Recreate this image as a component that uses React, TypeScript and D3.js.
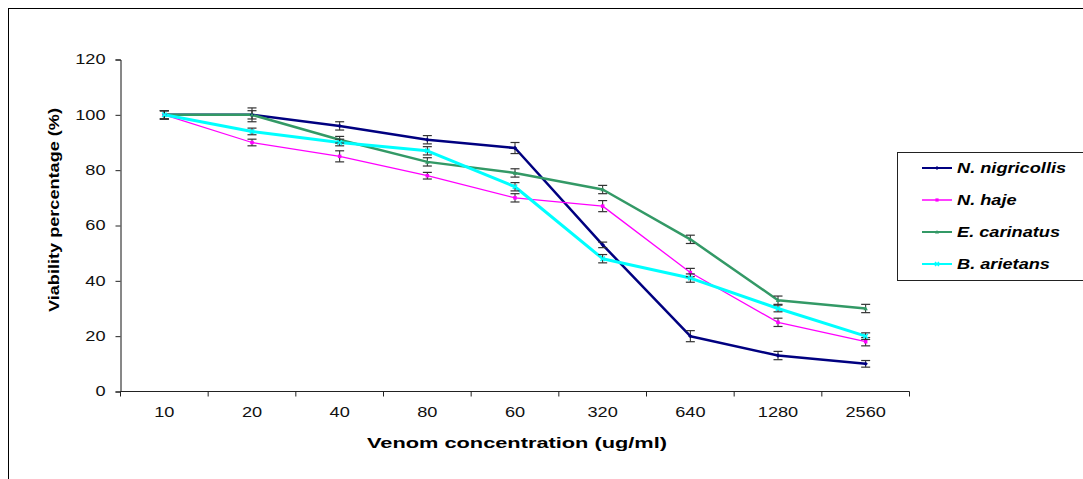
import React, { useEffect, useRef } from "react";
import * as d3 from "d3";

// venom doses as printed on the axis (order kept as in the original)
const doses = ["10", "20", "40", "80", "60", "320", "640", "1280", "2560"];
const yTicks = [0, 20, 40, 60, 80, 100, 120];

const nigricollis = [100, 100, 96, 91, 88, 53, 20, 13, 10];
const haje = [100, 90, 85, 78, 70, 67, 43, 25, 18];
const carinatus = [100, 100, 91, 83, 79, 73, 55, 33, 30];
const arietans = [100, 94, 90, 87, 74, 48, 41, 30, 20];

const nigricollisErr = [1.5, 2.5, 1.5, 1.5, 2, 1, 2, 1.5, 1.2];
const hajeErr = [1.5, 1.2, 2, 1.2, 1.5, 2, 1.5, 1.5, 1.5];
const carinatusErr = [1.5, 1.5, 1.2, 1.5, 1.5, 1.5, 1.5, 1.5, 1.5];
const arietansErr = [1.5, 1.2, 1.2, 1.5, 1.5, 1.5, 1.5, 1.2, 1.2];

const seriesNames = ["N. nigricollis", "N. haje", "E. carinatus", "B. arietans"];

const App = () => {
  const svgRef = useRef<SVGSVGElement>(null);
  const w = 1083;
  const h = 479;

  useEffect(() => {
    const svg = d3.select(svgRef.current);
    svg.selectAll("*").remove();

    const series = [
      { name: seriesNames[0], values: nigricollis, err: nigricollisErr, color: "#000080", width: 2.5, marker: "diamond" },
      { name: seriesNames[1], values: haje, err: hajeErr, color: "#FF00FF", width: 1.3, marker: "square" },
      { name: seriesNames[2], values: carinatus, err: carinatusErr, color: "#339966", width: 2.5, marker: "triangle" },
      { name: seriesNames[3], values: arietans, err: arietansErr, color: "#00FFFF", width: 3, marker: "cross" },
    ];

    // outer chart frame (cut off at right/bottom like the source)
    svg
      .append("rect")
      .attr("x", 8.5)
      .attr("y", 8.5)
      .attr("width", 1200)
      .attr("height", 600)
      .attr("fill", "white")
      .attr("stroke", "black")
      .attr("stroke-width", 1);

    const left = 120.5;
    const right = 909.5;
    const top = 59.5;
    const bottom = 391.5;
    const sx = 1.3; // the source text is stretched sideways

    const xScale = d3.scaleBand().domain(doses).range([left, right]);
    const yScale = d3.scaleLinear().domain([0, 120]).range([bottom, top]);
    const cx = (i: number) => (xScale(doses[i]) as number) + xScale.bandwidth() / 2;

    const font = "Arial, 'Liberation Sans', sans-serif";

    //axes
    const yAxis = d3
      .axisLeft(yScale)
      .tickValues(yTicks)
      .tickSize(5)
      .tickFormat((d) => String(d));
    const gy = svg.append("g").attr("transform", `translate(${left},0)`).call(yAxis);
    gy.selectAll(".tick line").attr("stroke", "#222");
    gy.selectAll("text")
      .attr("x", -15 / sx)
      .attr("transform", `scale(${sx},1)`)
      .attr("font-size", 14)
      .attr("font-family", font)
      .attr("fill", "#111");
    gy.select(".domain").attr("stroke", "#111");

    // x axis: ticks sit on the band boundaries
    const gx = svg.append("g");
    gx.append("line")
      .attr("x1", left)
      .attr("x2", right)
      .attr("y1", bottom)
      .attr("y2", bottom)
      .attr("stroke", "#222");
    const bounds = doses.map((d) => xScale(d) as number).concat([right]);
    gx.selectAll("line.tk")
      .data(bounds)
      .join("line")
      .attr("class", "tk")
      .attr("x1", (d) => d)
      .attr("x2", (d) => d)
      .attr("y1", bottom)
      .attr("y2", bottom + 5)
      .attr("stroke", "#222");
    gx.selectAll("text")
      .data(doses)
      .join("text")
      .attr("transform", (d, i) => `translate(${cx(i)},${bottom + 25}) scale(${sx},1)`)
      .attr("text-anchor", "middle")
      .attr("font-size", 14)
      .attr("font-family", font)
      .attr("fill", "#111")
      .text((d) => d);

    //axis titles
    svg
      .append("text")
      .attr("x", 367)
      .attr("y", 448)
      .attr("textLength", 300)
      .attr("lengthAdjust", "spacingAndGlyphs")
      .attr("font-size", 15)
      .attr("font-weight", "bold")
      .attr("font-family", font)
      .text("Venom concentration (ug/ml)");
    svg
      .append("text")
      .attr("transform", `translate(59,312) rotate(-90)`)
      .attr("textLength", 204)
      .attr("lengthAdjust", "spacingAndGlyphs")
      .attr("font-size", 15)
      .attr("font-weight", "bold")
      .attr("font-family", font)
      .text("Viability percentage (%)");

    const line = d3
      .line<number>()
      .x((d, i) => cx(i))
      .y((d) => yScale(d));

    const drawMarker = (g: any, kind: string, x: number, y: number, color: string, s: number) => {
      if (kind === "diamond") {
        g.append("path")
          .attr("d", `M${x},${y - s} L${x + s},${y} L${x},${y + s} L${x - s},${y} Z`)
          .attr("fill", color);
      } else if (kind === "square") {
        g.append("rect")
          .attr("x", x - s * 0.8)
          .attr("y", y - s * 0.8)
          .attr("width", s * 1.6)
          .attr("height", s * 1.6)
          .attr("fill", color);
      } else if (kind === "triangle") {
        g.append("path")
          .attr("d", `M${x},${y - s} L${x + s},${y + s * 0.8} L${x - s},${y + s * 0.8} Z`)
          .attr("fill", color);
      } else {
        g.append("path")
          .attr("d", `M${x - s},${y - s} L${x + s},${y + s} M${x - s},${y + s} L${x + s},${y - s}`)
          .attr("stroke", color)
          .attr("stroke-width", 1.5);
      }
    };

    // series lines
    series.forEach((s) => {
      svg
        .append("path")
        .datum(s.values)
        .attr("d", line)
        .attr("fill", "none")
        .attr("stroke", s.color)
        .attr("stroke-width", s.width)
        .attr("stroke-linejoin", "round");
    });

    // error bars + markers
    series.forEach((s) => {
      const g = svg.append("g");
      s.values.forEach((v, i) => {
        const x = cx(i);
        const y1 = yScale(v + s.err[i]);
        const y2 = yScale(v - s.err[i]);
        g.append("line").attr("x1", x).attr("x2", x).attr("y1", y1).attr("y2", y2).attr("stroke", "#222").attr("stroke-width", 1);
        g.append("line").attr("x1", x - 4.5).attr("x2", x + 4.5).attr("y1", y1).attr("y2", y1).attr("stroke", "#333").attr("stroke-width", 1.2);
        g.append("line").attr("x1", x - 4.5).attr("x2", x + 4.5).attr("y1", y2).attr("y2", y2).attr("stroke", "#333").attr("stroke-width", 1.2);
        drawMarker(g, s.marker, x, yScale(v), s.color, 2.2);
      });
    });

    // legend
    const lg = svg.append("g");
    lg.append("rect")
      .attr("x", 897.5)
      .attr("y", 152.5)
      .attr("width", 200)
      .attr("height", 128)
      .attr("fill", "white")
      .attr("stroke", "#222")
      .attr("stroke-width", 1);
    const rowY = d3.scalePoint().domain(seriesNames).range([168, 264]);
    series.forEach((s) => {
      const y = rowY(s.name) as number;
      lg.append("line")
        .attr("x1", 922)
        .attr("x2", 952)
        .attr("y1", y)
        .attr("y2", y)
        .attr("stroke", s.color)
        .attr("stroke-width", s.width === 1.3 ? 1.5 : 2);
      drawMarker(lg, s.marker, 937, y, s.color, 2);
      lg.append("text")
        .attr("transform", `translate(957,${y + 5}) scale(${sx},1)`)
        .attr("font-size", 14)
        .attr("font-weight", "bold")
        .attr("font-style", "italic")
        .attr("font-family", font)
        .text(s.name);
    });
  }, []);

  return (
    <svg
      ref={svgRef}
      width={w}
      height={h}
      style={{ position: "fixed", left: 0, top: 0, background: "white" }}
    />
  );
};

export default App;
